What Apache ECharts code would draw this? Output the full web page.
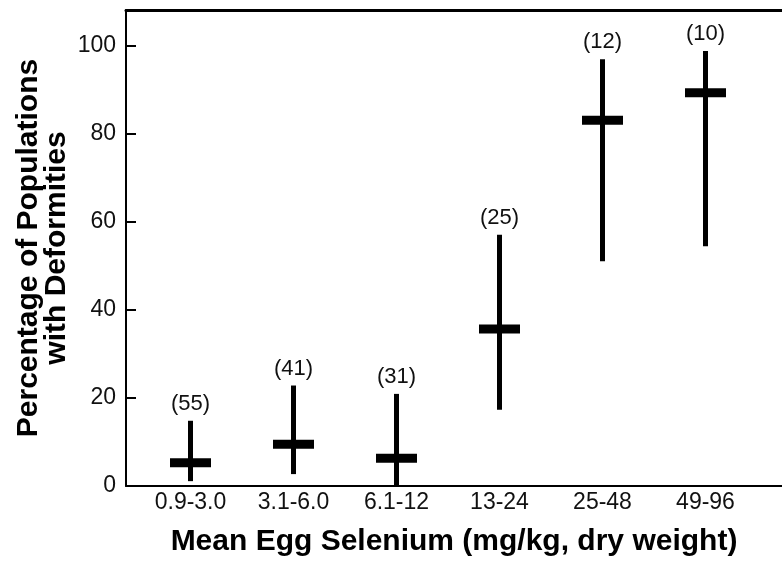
<!DOCTYPE html>
<html>
<head>
<meta charset="utf-8">
<script src="https://cdn.jsdelivr.net/npm/echarts@6/dist/echarts.min.js"></script>
<style>
html,body{margin:0;padding:0;background:#fff;}
#chart{width:782px;height:564px;}
</style>
</head>
<body>
<div id="chart"></div>
<script>
// ---- data ----
var categories = ['0.9-3.0', '3.1-6.0', '6.1-12', '13-24', '25-48', '49-96'];
var meanPct   = [5.3, 9.5, 6.3, 35.6, 83.0, 89.2];
var lowPct    = [1.1, 2.7, 0.0, 17.3, 51.0, 54.4];
var highPct   = [14.8, 22.8, 20.9, 57.0, 96.8, 98.7];
var nPops     = [55, 41, 31, 25, 12, 10];
var yTicks    = [0, 20, 40, 60, 80, 100];

var xTitle = 'Mean Egg Selenium (mg/kg, dry weight)';
var yTitle = 'Percentage of Populations\nwith Deformities';

var seriesData = categories.map(function (c, i) {
  return [i, meanPct[i], lowPct[i], highPct[i], nPops[i]];
});

var FONT = '"Liberation Sans", Arial, Helvetica, sans-serif';
var chart = echarts.init(document.getElementById('chart'), null, {renderer: 'canvas'});

chart.setOption({
  backgroundColor: '#ffffff',
  animation: false,
  grid: [
    {left: 126, right: 0, top: 10, bottom: 78},
    {left: 139, right: 25, top: 10, bottom: 78}
  ],
  xAxis: [
    { // frame bottom line + title
      type: 'value', gridIndex: 0, min: 0, max: 1, position: 'bottom',
      axisLine: {show: true, onZero: false, lineStyle: {color: '#000', width: 2}},
      axisTick: {show: false}, axisLabel: {show: false}, splitLine: {show: false},
      name: xTitle, nameLocation: 'middle', nameGap: 41, nameMoveOverlap: false,
      nameTextStyle: {fontFamily: FONT, fontWeight: 'bold', fontSize: 30, color: '#000'}
    },
    { // frame top line
      type: 'value', gridIndex: 0, min: 0, max: 1, position: 'top',
      axisLine: {show: true, onZero: false, lineStyle: {color: '#000', width: 3}},
      axisTick: {show: false}, axisLabel: {show: false}, splitLine: {show: false}
    },
    { // category labels
      type: 'category', gridIndex: 1, data: categories, boundaryGap: true,
      axisLine: {show: false}, axisTick: {show: false}, splitLine: {show: false},
      axisLabel: {fontFamily: FONT, fontSize: 23, color: '#111', margin: 5, interval: 0}
    }
  ],
  yAxis: [
    {
      type: 'value', gridIndex: 0, min: 0, max: 108, interval: 20,
      axisLine: {show: true, onZero: false, lineStyle: {color: '#000', width: 2}},
      axisTick: {show: true, inside: true, length: 10, lineStyle: {color: '#000', width: 2}},
      axisLabel: {fontFamily: FONT, fontSize: 23, color: '#111', margin: 10,
        showMaxLabel: false,
        formatter: function (v) { return yTicks.indexOf(v) >= 0 ? String(v) : ''; }},
      splitLine: {show: false},
      name: yTitle, nameLocation: 'middle', nameGap: 55, nameRotate: 90, nameMoveOverlap: false,
      nameTextStyle: {fontFamily: FONT, fontWeight: 'bold', fontSize: 30, color: '#000', lineHeight: 28, align: 'center'}
    },
    {
      type: 'value', gridIndex: 1, min: 0, max: 108, show: false
    }
  ],
  series: [{
    type: 'custom',
    xAxisIndex: 2, yAxisIndex: 1,
    clip: false,
    data: seriesData,
    renderItem: function (params, api) {
      var i = api.value(0);
      var pMean = api.coord([i, api.value(1)]);
      var pLow = api.coord([i, api.value(2)]);
      var pHigh = api.coord([i, api.value(3)]);
      var n = api.value(4);
      return {
        type: 'group',
        children: [
          {type: 'line', shape: {x1: pLow[0], y1: pLow[1], x2: pHigh[0], y2: pHigh[1]},
           style: {stroke: '#000', lineWidth: 5}},
          {type: 'rect', shape: {x: pMean[0] - 20.5, y: pMean[1] - 4.5, width: 41, height: 9},
           style: {fill: '#000'}},
          {type: 'text', x: pHigh[0], y: pHigh[1] - 6,
           style: {text: '(' + n + ')', fontFamily: FONT, fontSize: 22, fill: '#111',
                   align: 'center', verticalAlign: 'bottom'}}
        ]
      };
    }
  }]
});
</script>
</body>
</html>
